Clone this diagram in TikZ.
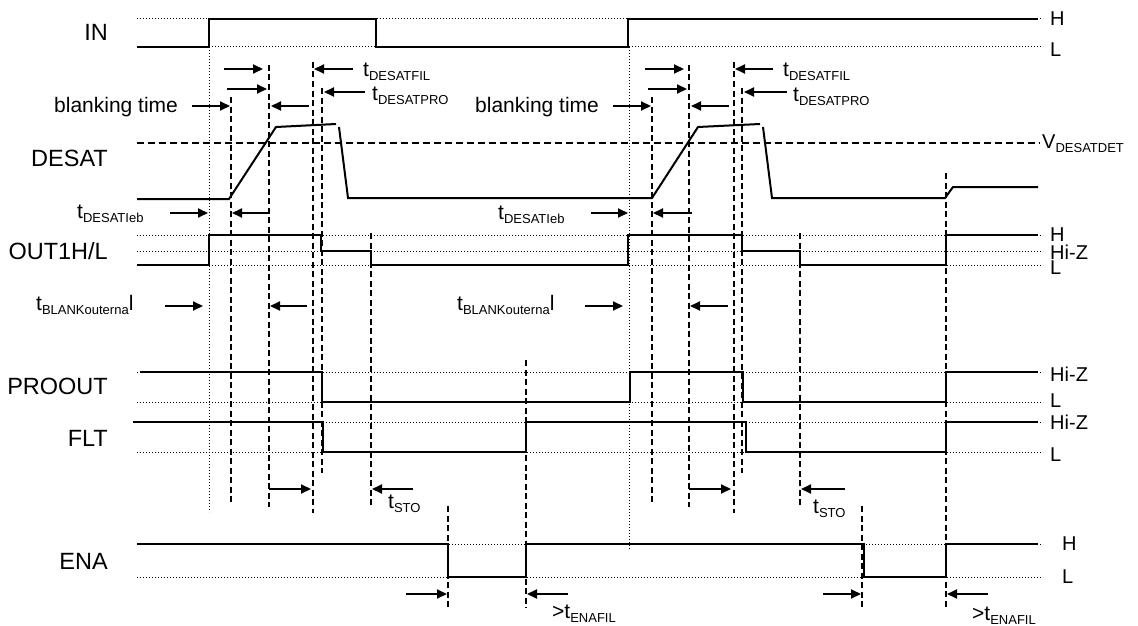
\documentclass[tikz,border=0pt]{standalone}
\usepackage{fontspec}
\setmainfont{Liberation Sans}
\usetikzlibrary{arrows.meta}
\newcommand\tsb[1]{\raisebox{-4pt}{\fontsize{13}{14}\selectfont #1}}
\begin{document}
\begin{tikzpicture}[x=1pt,y=-1pt,
 sig/.style={line width=2pt, line join=miter},
 dots/.style={line width=1pt, dash pattern=on 1pt off 2pt},
 vd/.style={line width=1.4pt, dash pattern=on 6pt off 3.5pt},
 hd/.style={line width=1.4pt, dash pattern=on 7pt off 4pt},
 arr/.style={line width=2pt, -{Triangle[length=10pt,width=9pt]}},
 lab/.style={font=\fontsize{23.5}{26}\selectfont, anchor=base east, inner sep=0pt},
 lvl/.style={font=\fontsize{20}{22}\selectfont, anchor=west, inner sep=0pt},
 tl/.style={font=\fontsize{21}{23}\selectfont, anchor=base west, inner sep=0pt}
]
\useasboundingbox (0,0) rectangle (1138,626);
\fill[white] (0,0) rectangle (1138,626);

% signal names
\node[lab] (lIN) at (108,41) {IN};
\node[lab] (lDESAT) at (108,166) {DESAT};
\node[lab] (lOUT) at (108,259) {OUT1H/L};
\node[lab] (lPRO) at (108,394) {PROOUT};
\node[lab] (lFLT) at (108,446) {FLT};
\node[lab] (lENA) at (108,569) {ENA};

% level labels
\node[lvl] (hIN) at (1050,19) {H};
\node[lvl] (lIN2) at (1050,50) {L};
\node[lvl,anchor=base west] (vdet) at (1042,148) {V\tsb{DESATDET}};
\node[lvl] (hOUT) at (1050,235) {H};
\node[lvl] (zOUT) at (1050,252) {Hi-Z};
\node[lvl] (lOUT2) at (1050,268) {L};
\node[lvl] (zPRO) at (1050,374) {Hi-Z};
\node[lvl] (lPRO2) at (1050,401) {L};
\node[lvl] (zFLT) at (1050,422) {Hi-Z};
\node[lvl] (lFLT2) at (1050,455) {L};
\node[lvl] (hENA) at (1062,544) {H};
\node[lvl] (lENA2) at (1062,577) {L};

% dotted level lines
\foreach \y in {19,47,235,251,265,372,402,422,452,544,577}
  \draw[dots] (137,\y) -- (1043,\y);
\draw[hd] (137,143) -- (1040,143);

% vertical dotted
\draw[dots] (209,47) -- (209,512);
\draw[dots] (629,47) -- (629,550);

% vertical dashed, first cycle
\draw[vd] (231,97) -- (231,504);
\draw[vd] (269,65) -- (269,507);
\draw[vd] (313,62) -- (313,513);
\draw[vd] (322,88) -- (322,473);
\draw[vd] (371,233) -- (371,505);
\draw[vd] (448,506) -- (448,608);
\draw[vd] (526,360) -- (526,608);
% second cycle
\draw[vd] (652,97) -- (652,505);
\draw[vd] (689,65) -- (689,507);
\draw[vd] (734,62) -- (734,513);
\draw[vd] (742,88) -- (742,473);
\draw[vd] (800,233) -- (800,505);
\draw[vd] (862,506) -- (862,608);
\draw[vd] (946,173) -- (946,610);

% waveforms
\draw[sig] (137,47) -- (209,47) -- (209,19) -- (376,19) -- (376,47) -- (628,47) -- (628,19) -- (1038,19);
\draw[sig] (137,199) -- (229,199) -- (276,127) -- (336,124);
\draw[sig] (339,127) -- (348,198) -- (652,198) -- (698,127) -- (760,124);
\draw[sig] (763,127) -- (772,198) -- (945,198) -- (953,187) -- (1038,187);
\draw[sig] (137,265) -- (209,265) -- (209,235) -- (321,235) -- (321,251) -- (371,251) -- (371,265) -- (628,265) -- (628,235) -- (742,235) -- (742,251) -- (800,251) -- (800,265) -- (946,265) -- (946,235) -- (1038,235);
\draw[sig] (140,372) -- (322,372) -- (322,402) -- (630,402) -- (630,372) -- (743,372) -- (743,402) -- (946,402) -- (946,372) -- (1038,372);
\draw[sig] (133,422) -- (323,422) -- (323,452) -- (526,452) -- (526,422) -- (746,422) -- (746,452) -- (946,452) -- (946,422) -- (1038,422);
\draw[sig] (137,544) -- (448,544) -- (448,577) -- (526,577) -- (526,544) -- (864,544) -- (864,577) -- (946,577) -- (946,544) -- (1038,544);

% timing arrows, first cycle
\draw[arr] (224,69) -- (263,69);
\draw[arr] (227,89) -- (267,89);
\draw[arr] (192,106) -- (230,106);
\draw[arr] (309,106) -- (271,106);
\draw[arr] (353,69) -- (314,69);
\draw[arr] (365,92) -- (324,92);
\draw[arr] (170,213) -- (208,213);
\draw[arr] (270,213) -- (232,213);
\draw[arr] (165,306) -- (203,306);
\draw[arr] (307,306) -- (270,306);
\draw[arr] (269,489) -- (311,489);
\draw[arr] (413,489) -- (372,489);
\draw[arr] (406,594) -- (447,594);
\draw[arr] (568,594) -- (527,594);
% second cycle
\draw[arr] (645,69) -- (684,69);
\draw[arr] (648,89) -- (687,89);
\draw[arr] (613,106) -- (651,106);
\draw[arr] (729,106) -- (691,106);
\draw[arr] (773,69) -- (735,69);
\draw[arr] (787,92) -- (744,92);
\draw[arr] (591,213) -- (628,213);
\draw[arr] (692,213) -- (653,213);
\draw[arr] (585,306) -- (623,306);
\draw[arr] (728,306) -- (690,306);
\draw[arr] (689,489) -- (731,489);
\draw[arr] (845,489) -- (801,489);
\draw[arr] (823,594) -- (861,594);
\draw[arr] (988,594) -- (947,594);

% timing labels
\node[tl] (fil1) at (363,77) {t\tsb{DESATFIL}};
\node[tl] (pro1) at (372,100) {t\tsb{DESATPRO}};
\node[tl] (bl1) at (54,112) {blanking time};
\node[tl] (leb1) at (77,218) {t\tsb{DESATIeb}};
\node[tl] (bk1) at (36,310) {t\tsb{BLANKouterna}l};
\node[tl] (sto1) at (388,508) {t\tsb{STO}};
\node[tl] (ena1) at (552,618) {>t\tsb{ENAFIL}};
\node[tl] (fil2) at (783,77) {t\tsb{DESATFIL}};
\node[tl] (pro2) at (793,101) {t\tsb{DESATPRO}};
\node[tl] (bl2) at (475,112) {blanking time};
\node[tl] (leb2) at (498,219) {t\tsb{DESATIeb}};
\node[tl] (bk2) at (457,310) {t\tsb{BLANKouterna}l};
\node[tl] (sto2) at (813,513) {t\tsb{STO}};
\node[tl] (ena2) at (972,620) {>t\tsb{ENAFIL}};
\end{tikzpicture}
\end{document}
